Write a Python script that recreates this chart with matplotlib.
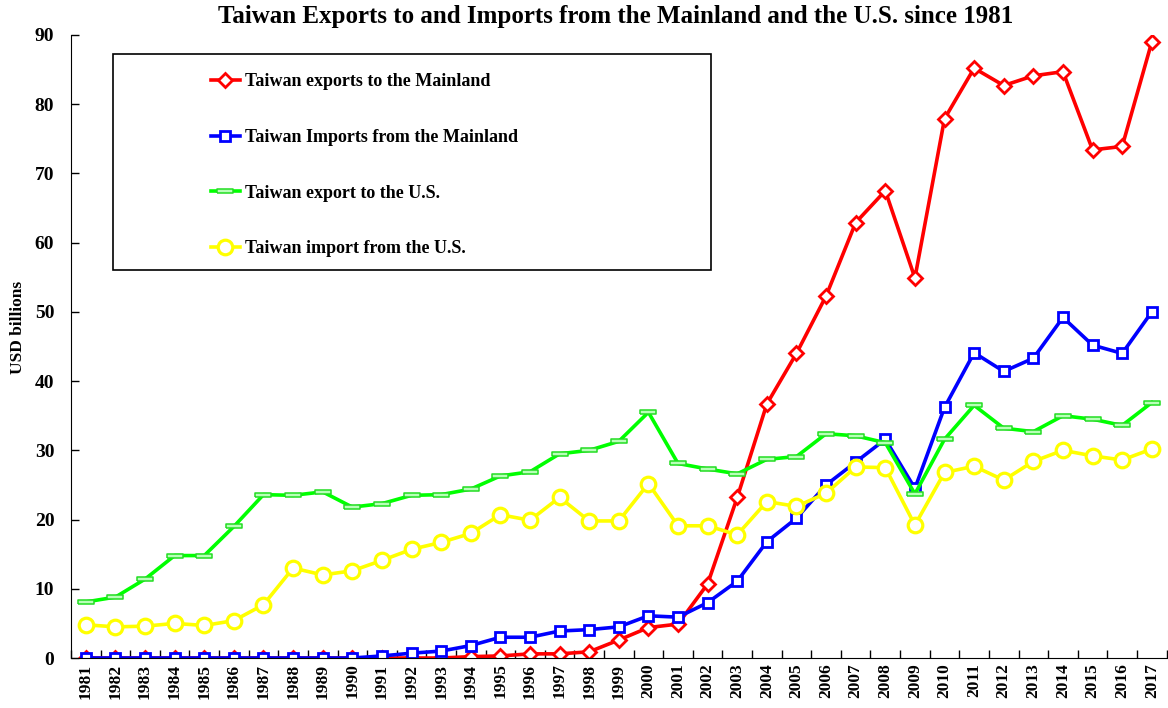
import matplotlib.pyplot as plt
import numpy as np
from matplotlib.patches import Rectangle

plt.rcParams['font.family'] = ['Liberation Serif', 'DejaVu Serif']
plt.rcParams['font.weight'] = 'bold'

years = list(range(1981, 2018))

exports_mainland = [0, 0, 0, 0, 0, 0, 0, 0, 0, 0,
                    0, 0, 0, 0.2, 0.3, 0.6, 0.6, 0.9, 2.6, 4.4,
                    4.9, 10.7, 23.2, 36.7, 44.0, 52.3, 62.9, 67.5, 54.9, 77.9,
                    85.2, 82.7, 84.1, 84.7, 73.4, 73.9, 89.0]
imports_mainland = [0, 0, 0, 0, 0, 0, 0, 0, 0, 0,
                    0.3, 0.7, 1.0, 1.8, 3.0, 3.0, 3.9, 4.1, 4.5, 6.1,
                    5.9, 8.0, 11.1, 16.8, 20.2, 25.0, 28.3, 31.6, 24.5, 36.2,
                    44.1, 41.4, 43.3, 49.2, 45.2, 44.0, 50.0]
export_us = [8.1, 8.8, 11.4, 14.8, 14.8, 19.0, 23.6, 23.5, 24.0, 21.8,
             22.3, 23.5, 23.6, 24.4, 26.3, 26.9, 29.5, 30.0, 31.3, 35.5,
             28.1, 27.3, 26.6, 28.7, 29.1, 32.4, 32.1, 31.1, 23.7, 31.6,
             36.5, 33.2, 32.7, 35.0, 34.5, 33.6, 36.9]
import_us = [4.8, 4.5, 4.6, 5.0, 4.7, 5.4, 7.7, 13.0, 12.0, 12.6,
             14.1, 15.7, 16.7, 18.0, 20.7, 19.9, 23.2, 19.8, 19.8, 25.2,
             19.1, 19.1, 17.8, 22.6, 21.9, 23.8, 27.6, 27.5, 19.2, 26.8,
             27.7, 25.7, 28.4, 30.0, 29.2, 28.6, 30.2]

labels = ['Taiwan exports to the Mainland',
          'Taiwan Imports from the Mainland',
          'Taiwan export to the U.S.',
          'Taiwan import from the U.S.']

fig = plt.figure(figsize=(11.68, 7.08), dpi=100)
ax = fig.add_axes([0.0608, 0.0706, 0.938, 0.88])

x = np.arange(len(years))
bar_marker = [(-1, -0.3), (1, -0.3), (1, 0.3), (-1, 0.3), (-1, -0.3)]

ax.plot(x, exports_mainland, color='#ff0000', lw=2.6, marker='D', ms=7.5,
        mfc='white', mec='#ff0000', mew=2.0, label=labels[0])
ax.plot(x, imports_mainland, color='#0000ff', lw=2.6, marker='s', ms=7.5,
        mfc='white', mec='#0000ff', mew=2.0, label=labels[1])
ax.plot(x, export_us, color='#00ff00', lw=2.6, marker=bar_marker, ms=11,
        mfc='#b8ffb8', mec='#22dd22', mew=1.1, label=labels[2])
ax.plot(x, import_us, color='#ffff00', lw=2.6, marker='o', ms=10.5,
        mfc='white', mec='#ffff00', mew=2.3, label=labels[3])

ax.set_xlim(-0.5, len(years) - 0.5)
ax.set_ylim(0, 90)
ax.set_yticks(range(0, 91, 10))
ax.set_xticks(x)
ax.set_xticklabels(years, rotation=90, fontsize=12.5, fontweight='bold')
ax.set_xticks(np.arange(len(years) + 1) - 0.5, minor=True)
ax.tick_params(axis='x', which='major', length=0, pad=4)
ax.tick_params(axis='x', which='minor', direction='in', length=6, width=1)
ax.tick_params(axis='y', direction='in', length=6, width=1, labelsize=14, pad=12)
for t in ax.get_yticklabels():
    t.set_fontweight('bold')

ax.spines['top'].set_visible(False)
ax.spines['right'].set_visible(False)
ax.set_ylabel('USD billions', fontsize=12.5, fontweight='bold')
ax.yaxis.set_label_coords(-0.041, 0.53)
fig.text(0.527, 0.976, 'Taiwan Exports to and Imports from the Mainland and the U.S. since 1981',
         ha='center', va='center', fontsize=18, fontweight='bold')

# legend frame drawn separately, it is much wider than the entries
ax.add_patch(Rectangle((0.0383, 0.623), 0.546, 0.346, transform=ax.transAxes,
                       fill=False, ec='black', lw=1.2, zorder=5))
leg = ax.legend(loc='upper left', bbox_to_anchor=(0.1126, 0.965), frameon=False,
                prop={'family': 'Liberation Serif', 'weight': 'bold', 'size': 13},
                handlelength=1.6, handletextpad=0.3, labelspacing=2.15)

fig.savefig('out.png', dpi=100)
